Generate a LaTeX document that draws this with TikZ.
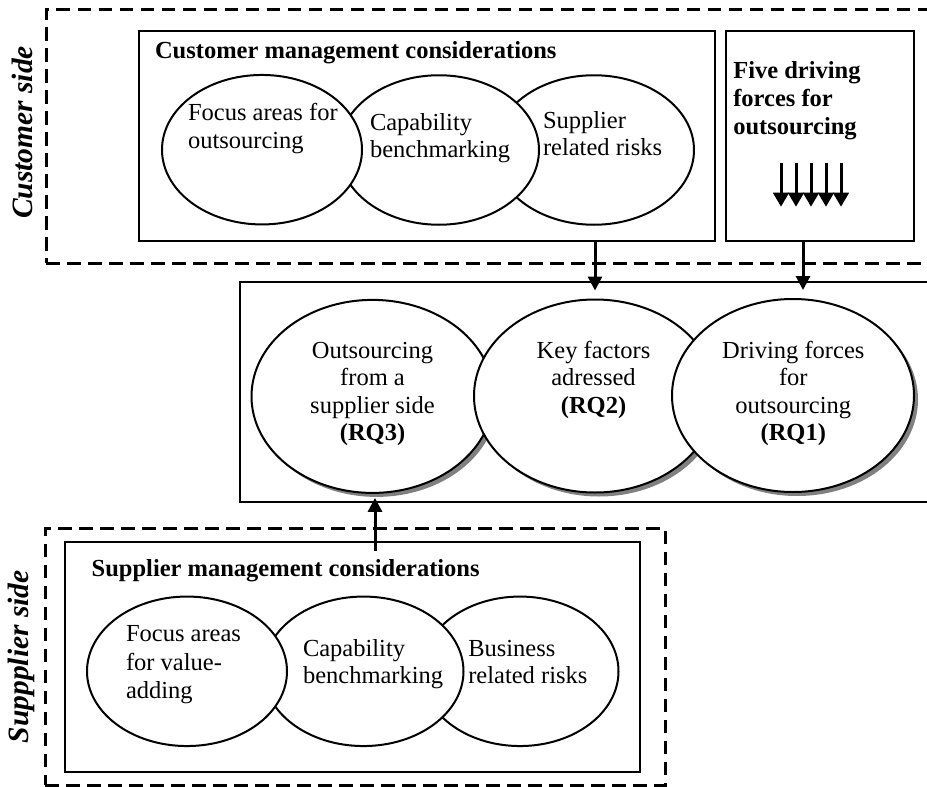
\documentclass[tikz,border=0pt]{standalone}
\usepackage{fontspec}
\setmainfont{Liberation Serif}
\usetikzlibrary{shapes.geometric,arrows.meta,shadows}

\begin{document}
\begin{tikzpicture}[x=1pt,y=-1pt,
  zone/.style={draw, line width=3pt, dash pattern=on 13.5pt off 7.5pt, rectangle, inner sep=0pt},
  frame/.style={draw, line width=2.2pt, rectangle, inner sep=0pt, fill=white},
  bubble/.style={draw, line width=2pt, ellipse, fill=white, inner sep=0pt},
  rqbubble/.style={bubble, minimum width=242pt, minimum height=193pt,
    drop shadow={shadow xshift=4pt, shadow yshift=-4pt, fill=black!55, opacity=0.9}},
  mgbubble/.style={bubble, minimum width=200pt, minimum height=149.5pt},
  body/.style={font=\fontsize{24.5}{27.5}\selectfont, inner sep=0pt, outer sep=0pt},
  lbody/.style={body, align=left, anchor=north west},
  cbody/.style={body, align=center, anchor=north},
  heading/.style={font=\bfseries\fontsize{24.5}{28.3}\selectfont, inner sep=0pt, outer sep=0pt},
  side/.style={font=\bfseries\itshape\fontsize{29.5}{32}\selectfont, inner sep=0pt, rotate=90, anchor=base},
  conn/.style={line width=3pt, -{Triangle[width=14pt,length=14pt]}},
  force/.style={line width=3pt, -{Triangle[width=15.5pt,length=14pt]}},
]
\clip (0,0) rectangle (927,787);

% customer side zone and its label
\node[zone, minimum width=914pt, minimum height=254pt] (custzone) at (503,136) {};
\node[side] (custlabel) at (32.5,132.5) {Customer side};

% customer management considerations
\node[frame, minimum width=576pt, minimum height=210pt] (cmc) at (427,136) {};
\node[heading, anchor=base west] (cmctitle) at (155,58.3) {Customer management considerations};
\node[mgbubble] (c3) at (594,150) {};
\node[mgbubble] (c2) at (439,150) {};
\node[mgbubble] (c1) at (262,149.7) {};
\node[lbody] (c1text) at (188,101.5) {\strut Focus areas for\\outsourcing};
\node[lbody] (c2text) at (370,110.8) {\strut Capability\\benchmarking};
\node[lbody] (c3text) at (543,108.8) {\strut Supplier\\related risks};

% five driving forces
\node[frame, minimum width=188pt, minimum height=210pt] (five) at (820,136) {};
\node[heading, align=left, anchor=north west] (fivetext) at (733.3,58.5)
  {\strut Five driving\\forces for\\outsourcing};
\foreach \x in {781,796,811,826,841}
  \draw[force] (\x,162.7) -- (\x,206.7);

% research questions
\node[frame, minimum width=700pt, minimum height=220pt] (core) at (590,391.7) {};
\node[rqbubble] (rq3) at (372.5,396.4) {};
\node[rqbubble] (rq2) at (595,396) {};
\node[rqbubble] (rq1) at (793,395.5) {};
\node[cbody] (rq3text) at (372.5,338.8) {\strut Outsourcing\\from a\\supplier side\\\textbf{(RQ3)}};
\node[cbody] (rq2text) at (593.5,338.8) {\strut Key factors\\adressed\\\textbf{(RQ2)}};
\node[cbody] (rq1text) at (793.3,338.8) {\strut Driving forces\\for\\outsourcing\\\textbf{(RQ1)}};

% supplier side zone and its label
\node[zone, minimum width=620pt, minimum height=256.7pt] (supzone) at (355,656.65) {};
\node[side] (suplabel) at (28,656.7) {Suppplier side};

% supplier management considerations
\node[frame, minimum width=575pt, minimum height=230pt] (smc) at (352.5,656.7) {};
\node[heading, anchor=base west] (smctitle) at (91.7,576.7) {Supplier management considerations};
\node[mgbubble, minimum width=197pt] (s3) at (520,671.3) {};
\node[mgbubble] (s2) at (363.5,671.3) {};
\node[mgbubble] (s1) at (187,671.3) {};
\node[lbody, font=\fontsize{24.5}{28.3}\selectfont] (s1text) at (126,621.9) {\strut Focus areas\\for value-\\adding};
\node[lbody] (s2text) at (303,636.8) {\strut Capability\\benchmarking};
\node[lbody] (s3text) at (468.3,636.8) {\strut Business\\related risks};

% connectors into the research questions
\coordinate (tipA) at ([yshift=8pt]rq2.north);
\coordinate (tipB) at ([xshift=10pt,yshift=8pt]rq1.north);
\coordinate (tipC) at ([xshift=2.5pt,yshift=-4pt]rq3.south);
\coordinate (footC) at ([yshift=-10pt]smc.north -| tipC);
\draw[conn] (cmc.south -| tipA) -- (tipA);
\draw[conn] (five.south -| tipB) -- (tipB);
\draw[conn] (footC) -- (tipC);
\end{tikzpicture}
\end{document}
